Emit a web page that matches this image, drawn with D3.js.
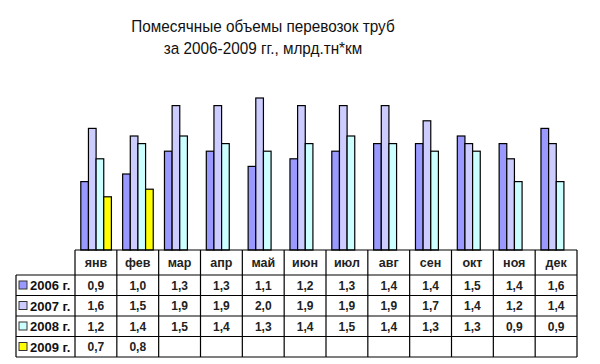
<!DOCTYPE html>
<html>
<head>
<meta charset="utf-8">
<script src="https://cdn.jsdelivr.net/npm/d3@7"></script>
<style>
  body { margin: 0; background: #fff; }
  svg text { font-family: "Liberation Sans", Arial, sans-serif; }
</style>
</head>
<body>
<div id="chart"></div>
<script>
const months = ['янв', 'фев', 'мар', 'апр', 'май', 'июн', 'июл', 'авг', 'сен', 'окт', 'ноя', 'дек'];
const seriesNames = ['2006 г.', '2007 г.', '2008 г.', '2009 г.'];
const values2006 = [0.9, 1.0, 1.3, 1.3, 1.1, 1.2, 1.3, 1.4, 1.4, 1.5, 1.4, 1.6];
const values2007 = [1.6, 1.5, 1.9, 1.9, 2.0, 1.9, 1.9, 1.9, 1.7, 1.4, 1.2, 1.4];
const values2008 = [1.2, 1.4, 1.5, 1.4, 1.3, 1.4, 1.5, 1.4, 1.3, 1.3, 0.9, 0.9];
const values2009 = [0.7, 0.8];
const seriesColors = ['#9999ff', '#ccccff', '#ccffff', '#ffff00'];

const allSeries = [values2006, values2007, values2008, values2009];

const width = 600;
const height = 364;

const svg = d3.select('#chart')
  .append('svg')
  .attr('width', width)
  .attr('height', height)
  .attr('viewBox', `0 0 ${width} ${height}`);

// title (slightly condensed, like the original)
const title = svg.append('g')
  .attr('transform', 'translate(263,0) scale(0.9,1)');
title.append('text')
  .attr('x', 0).attr('y', 32)
  .attr('text-anchor', 'middle')
  .attr('font-size', 17)
  .attr('fill', '#111')
  .text('Помесячные объемы перевозок труб');
title.append('text')
  .attr('x', 0).attr('y', 54)
  .attr('text-anchor', 'middle')
  .attr('font-size', 17)
  .attr('fill', '#111')
  .text('за 2006-2009 гг., млрд.тн*км');

// scales
const tableTop = 250;
const x0 = d3.scaleBand().domain(months).range([75, 577]);
const x1 = d3.scaleBand().domain(d3.range(4)).range([5.8, 36.4]);
const y = d3.scaleLinear().domain([0, 2]).range([tableTop, tableTop - 152]);

// bars
const bars = [];
allSeries.forEach((vals, s) => {
  vals.forEach((v, i) => bars.push({ s, m: months[i], v }));
});

svg.append('g')
  .selectAll('rect')
  .data(bars)
  .join('rect')
  .attr('x', d => x0(d.m) + x1(d.s))
  .attr('y', d => y(d.v))
  .attr('width', x1.bandwidth())
  .attr('height', d => y(0) - y(d.v))
  .attr('fill', d => seriesColors[d.s])
  .attr('stroke', '#000')
  .attr('stroke-width', 1.2);

// data table
const headerH = 25;
const rowH = 20.5;
const legendLeft = 16;
const rowY = d3.range(5).map(i => tableTop + headerH + i * rowH);
const tableBottom = rowY[4];

const grid = svg.append('g').attr('stroke', '#000').attr('stroke-width', 1.2);
grid.append('line')
  .attr('x1', 75).attr('x2', 577)
  .attr('y1', tableTop).attr('y2', tableTop);
rowY.forEach(yy => {
  grid.append('line')
    .attr('x1', legendLeft).attr('x2', 577)
    .attr('y1', yy).attr('y2', yy);
});
grid.append('line')
  .attr('x1', legendLeft).attr('x2', legendLeft)
  .attr('y1', rowY[0]).attr('y2', tableBottom);
months.forEach(m => {
  grid.append('line')
    .attr('x1', x0(m)).attr('x2', x0(m))
    .attr('y1', tableTop).attr('y2', tableBottom);
});
grid.append('line')
  .attr('x1', 577).attr('x2', 577)
  .attr('y1', tableTop).attr('y2', tableBottom);

// month labels
svg.append('g')
  .selectAll('text')
  .data(months)
  .join('text')
  .attr('x', d => x0(d) + x0.bandwidth() / 2)
  .attr('y', tableTop + 17)
  .attr('text-anchor', 'middle')
  .attr('font-size', 12.5)
  .attr('font-weight', 'bold')
  .attr('fill', '#222')
  .text(d => d);

// legend rows with values
const fmt = v => d3.format('.1f')(v).replace('.', ',');
seriesNames.forEach((name, s) => {
  const top = rowY[s];
  svg.append('rect')
    .attr('x', 19).attr('y', top + 6)
    .attr('width', 8).attr('height', 8)
    .attr('fill', seriesColors[s])
    .attr('stroke', '#333')
    .attr('stroke-width', 1);
  svg.append('text')
    .attr('x', 30).attr('y', top + 15)
    .attr('font-size', 13)
    .attr('font-weight', 'bold')
    .attr('fill', '#111')
    .text(name);
  svg.append('g')
    .selectAll('text')
    .data(allSeries[s])
    .join('text')
    .attr('x', (d, i) => x0(months[i]) + x0.bandwidth() / 2)
    .attr('y', top + 14.5)
    .attr('text-anchor', 'middle')
    .attr('font-size', 12)
    .attr('font-weight', 'bold')
    .attr('fill', '#222')
    .text(d => fmt(d));
});
</script>
</body>
</html>
